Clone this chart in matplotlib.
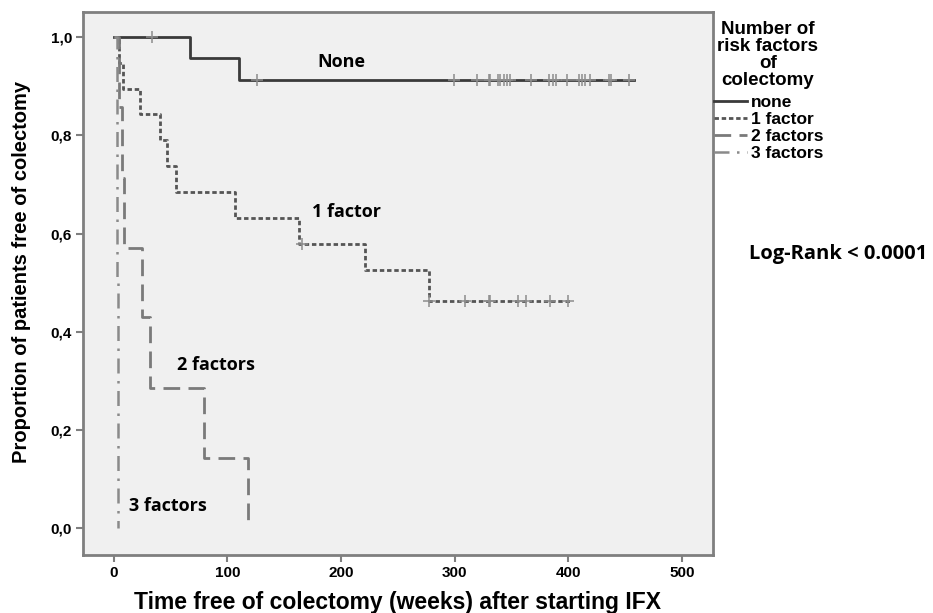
import numpy as np
import matplotlib
matplotlib.use("Agg")
from matplotlib import pyplot as plt
from matplotlib.lines import Line2D

# Kaplan-Meier steps (weeks, proportion free of colectomy)
none_times = [0, 67, 110, 458]
none_surv = [1.0, 0.957, 0.913, 0.913]
none_cens = [34, 126, 299, 320, 330, 331, 338, 340, 343, 346, 349, 367,
             383, 386, 389, 399, 409, 412, 415, 419, 436, 437, 453]

one_times = [0, 5, 8, 23, 41, 47, 55, 107, 163, 221, 277, 403]
one_surv = [1.0, 0.947, 0.895, 0.843, 0.790, 0.737, 0.684, 0.632, 0.579,
            0.526, 0.463, 0.463]
one_cens = [166, 277, 309, 330, 331, 356, 363, 384, 400]

two_times = [0, 5, 7, 9, 25, 32, 79, 118]
two_surv = [1.0, 0.857, 0.714, 0.571, 0.429, 0.286, 0.143, 0.0]

three_times = [0, 3, 4]
three_surv = [1.0, 0.5, 0.0]

x_ticks = [0, 100, 200, 300, 400, 500]
y_ticks = [0.0, 0.2, 0.4, 0.6, 0.8, 1.0]
y_tick_labels = ["0,0", "0,2", "0,4", "0,6", "0,8", "1,0"]

legend_labels = ["none", "1 factor", "2 factors", "3 factors"]

ARIAL = ["Liberation Sans", "DejaVu Sans"]
CALIBRI = ["Open Sans", "DejaVu Sans"]


def step_value(times, surv, t):
    """Survival value of a step curve at time t (right-continuous)."""
    idx = np.searchsorted(times, t, side="right") - 1
    return np.array(surv)[idx]


fig = plt.figure(figsize=(9.33, 6.13), dpi=100)
ax = fig.add_axes([0.089, 0.0946, 0.675, 0.8854])
ax.set_facecolor("#f0f0f0")

styles = [
    dict(color="#3a3a3a", lw=2.0, ls="-"),
    dict(color="#555555", lw=2.0, ls=(0, (1.6, 1.0))),
    dict(color="#7a7a7a", lw=2.0, ls=(0, (6, 3))),
    dict(color="#8a8a8a", lw=1.8, ls=(0, (6, 3, 1, 3))),
]
curves = [(none_times, none_surv), (one_times, one_surv),
          (two_times, two_surv), (three_times, three_surv)]

for (t, s), st in zip(curves, styles):
    ax.step(t, s, where="post", **st)

for t, s, cens in [(none_times, none_surv, none_cens), (one_times, one_surv, one_cens)]:
    ax.plot(cens, step_value(t, s, cens), ls="none", marker="+", ms=8,
            mew=1.1, color="#8c8c8c")

ax.set_xlim(-27, 527)
ax.set_ylim(-0.055, 1.051)
ax.set_xticks(x_ticks)
ax.set_xticklabels([str(v) for v in x_ticks])
ax.set_yticks(y_ticks)
ax.set_yticklabels(y_tick_labels)
ax.tick_params(length=5, width=1.5, color="#7f7f7f", pad=3)
for lab in ax.get_xticklabels() + ax.get_yticklabels():
    lab.set_family(ARIAL)
    lab.set_fontweight("bold")
    lab.set_fontsize(11)
for sp in ax.spines.values():
    sp.set_color("#7f7f7f")
    sp.set_linewidth(2)

ax.set_xlabel("Time free of colectomy (weeks) after starting IFX",
              family=ARIAL, fontweight="bold", fontsize=16.5, labelpad=8)
ax.set_ylabel("Proportion of patients free of colectomy",
              family=ARIAL, fontweight="bold", fontsize=14.5)
ax.yaxis.set_label_coords(-0.082, 0.522)

# curve annotations
ax.text(179, 0.95, "None", family=CALIBRI, fontweight="bold", fontsize=13,
        ha="left", va="center")
ax.text(174, 0.643, "1 factor", family=CALIBRI, fontweight="bold", fontsize=13,
        ha="left", va="center")
ax.text(56, 0.333, "2 factors", family=CALIBRI, fontweight="bold", fontsize=13,
        ha="left", va="center")
ax.text(13, 0.044, "3 factors", family=CALIBRI, fontweight="bold", fontsize=13,
        ha="left", va="center")

fig.text(0.898, 0.585, "Log-Rank < 0.0001", family=CALIBRI, fontweight="bold",
         fontsize=14.5, ha="center", va="center")

# legend
fig.text(0.823, 0.966, "Number of\nrisk factors\nof\ncolectomy", family=ARIAL,
         fontweight="bold", fontsize=13.5, ha="center", va="top",
         multialignment="center", linespacing=1.0)
handles = [Line2D([], [], **st) for st in styles]
leg = fig.legend(handles, legend_labels, loc="upper left",
                 bbox_to_anchor=(0.758, 0.856), frameon=False,
                 handlelength=1.9, handletextpad=0.2, labelspacing=0.1,
                 borderaxespad=0,
                 prop=dict(family=ARIAL, weight="bold", size=12.5))

fig.savefig("out.png", dpi=100)
